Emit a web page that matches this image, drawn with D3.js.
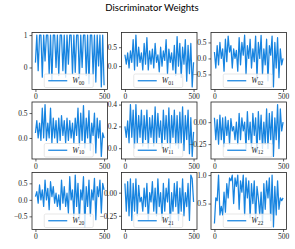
<!DOCTYPE html>
<html>
<head>
<meta charset="utf-8">
<script src="https://d3js.org/d3.v7.min.js"></script>
<style>
  body { margin: 0; background: #fff; }
</style>
</head>
<body>
<div id="chart"></div>
<script>
// weight traces, one value every 10 steps (0..500)
var w00 = [0.15, 1, -0.1, 1, 1, -0.3, 1, 0.2, 1, 1, -0.2, 1, -0.4, 1, 1, 0.0, 1, -0.25, 1, 1, -0.1, 1, -0.3, 1, 0.1, 1, 1, -0.2, 1, -0.15, 1, 1, -0.35, 1, 0.0, 1, 1, -0.25, 1, -0.5, 1, 1, -0.2, 1, -0.45, 1, 0.05, 1, -0.6, 1, -0.55];
var w01 = [0.3, 0.05, 0.35, -0.05, 0.4, 0.1, 0.7, -0.1, 0.82, 0.0, 0.5, 0.1, 0.35, -0.1, 0.6, 0.05, 0.75, -0.1, 0.4, 0.05, 0.45, -0.05, 0.6, 0.1, 0.3, -0.15, 0.5, 0.0, 0.4, 0.15, 0.7, -0.2, 0.45, 0.1, 0.35, -0.1, 0.55, -0.25, 0.78, 0.0, 0.6, -0.3, 0.5, 0.05, 0.7, -0.4, 0.55, -0.2, 0.6, -0.55, 0.1];
var w02 = [0.2, -0.3, 0.4, -0.2, 0.5, 0.0, 0.3, -0.4, 0.6, -0.1, 0.7, 0.2, 0.4, -0.3, 0.3, 0.0, 0.25, -0.4, 0.65, -0.2, 0.5, 0.1, 0.73, -0.5, 0.4, 0.0, 0.6, -0.3, 0.3, -0.1, 0.7, -0.6, 0.5, 0.0, 0.72, -0.5, 0.3, -0.2, 0.6, -0.7, 0.4, 0.1, 0.7, -0.89, 0.5, -0.3, 0.65, -0.6, 0.3, -0.2, 0.0];
var w10 = [0.1, 0.35, 0.0, 0.3, -0.05, 0.6, 0.0, 0.67, -0.05, 0.3, 0.0, 0.6, -0.1, 0.4, 0.0, 0.35, -0.1, 0.4, -0.05, 0.45, 0.05, 0.35, -0.1, 0.4, -0.05, 0.35, 0.0, 0.3, -0.1, 0.4, 0.05, 0.6, -0.15, 0.5, -0.05, 0.65, -0.2, 0.4, 0.0, 0.55, -0.25, 0.3, 0.05, 0.5, -0.3, 0.4, 0.0, 0.35, -0.37, 0.1, 0.0];
var w11 = [0.2, 0.1, 0.25, 0.05, 0.4, 0.1, 0.35, 0.0, 0.4, 0.05, 0.3, 0.1, 0.35, 0.02, 0.3, 0.08, 0.35, 0.0, 0.28, 0.1, 0.3, 0.02, 0.38, 0.05, 0.32, 0.1, 0.25, 0.0, 0.35, 0.08, 0.3, 0.05, 0.37, 0.0, 0.3, 0.1, 0.35, 0.03, 0.3, 0.0, 0.33, 0.05, 0.38, -0.02, 0.3, 0.08, 0.35, -0.05, 0.28, -0.075, 0.15];
var w12 = [0.05, -0.2, 0.03, -0.25, 0.08, -0.2, 0.05, -0.28, 0.06, -0.15, 0.02, -0.25, 0.04, -0.1, -0.05, -0.2, 0.0, -0.25, 0.1, -0.2, 0.05, -0.1, 0.0, -0.3, 0.12, -0.2, 0.0, -0.3, 0.1, -0.15, 0.05, -0.35, 0.12, -0.2, 0.08, -0.3, 0.0, -0.25, 0.15, -0.3, 0.1, -0.2, 0.12, -0.39, 0.05, -0.2, 0.2, -0.3, 0.15, -0.1, 0.0];
var w20 = [0.1, 0.25, -0.1, 0.45, 0.0, 0.3, -0.2, 0.6, 0.0, 0.35, -0.3, 0.55, 0.1, 0.4, -0.1, 0.2, -0.2, 0.15, -0.3, 0.6, -0.1, 0.4, -0.2, 0.2, -0.4, 0.7, 0.0, 0.3, -0.5, 0.75, -0.2, 0.5, -0.6, 0.3, 0.0, 0.7, -0.82, 0.4, -0.2, 0.6, -0.5, 0.3, 0.0, 0.65, -0.6, 0.4, 0.1, 0.6, -0.4, 0.5, 0.3];
var w21 = [0.1, -0.2, 0.12, -0.25, 0.15, -0.3, 0.1, -0.2, 0.15, -0.25, 0.08, -0.1, -0.05, -0.2, 0.05, -0.15, 0.1, -0.3, 0.0, -0.1, 0.12, -0.2, 0.05, -0.25, 0.15, -0.15, 0.0, -0.3, 0.1, -0.2, 0.05, -0.1, 0.15, -0.37, 0.0, -0.2, 0.1, -0.15, 0.12, -0.3, 0.05, -0.2, 0.15, -0.25, 0.0, -0.15, 0.1, -0.3, 0.19, 0.15, -0.1];
var w22 = [0.15, 0.6, 0.55, 1.0, 0.3, 0.45, 0.3, 0.7, 0.35, 0.85, 0.6, 0.95, 0.9, 1.0, 0.5, 0.95, 0.8, 1.0, 0.4, 0.9, 0.7, 1.0, 0.3, 0.95, 0.6, 0.9, 0.25, 0.85, 0.5, 0.9, 0.2, 0.8, 0.6, 0.3, 0.7, 0.15, 0.85, 0.4, 0.9, 0.6, 0.95, 0.2, 1.0, 0.09, 0.8, 0.3, 0.9, 0.4, 0.6, 0.55, 0.6];

var series = [w00, w01, w02, w10, w11, w12, w20, w21, w22];
var names = ["00", "01", "02", "10", "11", "12", "20", "21", "22"];

// y ticks and their labels, per panel
var yTicks = [[0, 1], [0, 0.5], [-0.5, 0, 0.5], [0, 0.5], [0, 0.2, 0.4], [-0.25, 0], [-0.5, 0, 0.5], [-0.25, 0], [0.5, 1]];
var yLabels = [["0", "1"], ["0.0", "0.5"], ["\u22120.5", "0.0", "0.5"], ["0.0", "0.5"], ["0.0", "0.2", "0.4"],
               ["\u22120.25", "0.00"], ["\u22120.5", "0.0", "0.5"], ["\u22120.25", "0.00"], ["0.5", "1.0"]];
var xTicks = [0, 500];
var xMax = 500;

var W = 295, H = 249;
var colLeft = [32, 121.5, 211], rowTop = [32.5, 102, 172.5];
var pw = 75.5, ph = 57;
var blue = "#1784e0";

var svg = d3.select("#chart").append("svg")
    .attr("width", W).attr("height", H);

svg.append("text")
    .attr("x", 152).attr("y", 10.5)
    .attr("text-anchor", "middle")
    .style("font-family", "Lato, 'DejaVu Sans', sans-serif")
    .style("font-size", "9.6px")
    .text("Discriminator Weights");

series.forEach(function(vals, k) {
    var r = Math.floor(k / 3), c = k % 3;
    var g = svg.append("g")
        .attr("transform", "translate(" + colLeft[c] + "," + rowTop[r] + ")");

    // matplotlib-ish 5% margins
    var x = d3.scaleLinear().domain([-0.05 * xMax, 1.05 * xMax]).range([0, pw]);
    var ext = d3.extent(vals), pad = (ext[1] - ext[0]) * 0.05;
    var y = d3.scaleLinear().domain([ext[0] - pad, ext[1] + pad]).range([ph, 0]);
    var step = xMax / (vals.length - 1);

    var line = d3.line()
        .x(function(d, i) { return x(i * step); })
        .y(function(d) { return y(d); });

    g.append("path")
        .datum(vals)
        .attr("d", line)
        .attr("fill", "none")
        .attr("stroke", blue)
        .attr("stroke-width", 1.25)
        .attr("stroke-linejoin", "round");

    // legend, lower center
    var lw = 49, lh = 13.5;
    var lg = g.append("g")
        .attr("transform", "translate(" + (pw / 2 - lw / 2 - 1) + "," + (ph - lh - 2) + ")");
    lg.append("rect")
        .attr("width", lw).attr("height", lh)
        .attr("rx", 1.5)
        .attr("fill", "#fff").attr("fill-opacity", 0.8)
        .attr("stroke", "#d6d6d6").attr("stroke-width", 0.6);
    lg.append("line")
        .attr("x1", 4).attr("x2", 23).attr("y1", lh / 2).attr("y2", lh / 2)
        .attr("stroke", blue).attr("stroke-width", 1.25);
    var lt = lg.append("text")
        .attr("x", 28).attr("y", lh / 2 + 2.6)
        .style("font-family", "'Liberation Serif', 'DejaVu Serif', serif")
        .style("font-size", "7.8px")
        .style("fill", "#222");
    lt.append("tspan").style("font-style", "italic").text("W");
    lt.append("tspan").attr("dy", 1.6).style("font-size", "5.6px").text(names[k]);

    // axes
    var ya = d3.axisLeft(y).tickValues(yTicks[k])
        .tickFormat(function(d, i) { return yLabels[k][i]; })
        .tickSize(2.5).tickPadding(2);
    var xa = d3.axisBottom(x).tickValues(xTicks).tickSize(2.5).tickPadding(2)
        .tickFormat(d3.format("d"));

    var gy = g.append("g").call(ya);
    var gx = g.append("g").attr("transform", "translate(0," + ph + ")").call(xa);
    [gx, gy].forEach(function(a) {
        a.select(".domain").remove();
        a.selectAll("line").attr("stroke", "#222").attr("stroke-width", 0.7);
        a.selectAll("text")
            .style("font-family", "'Liberation Serif', 'DejaVu Serif', serif")
            .style("font-size", "7.5px")
            .attr("fill", "#222");
    });

    g.append("rect")
        .attr("width", pw).attr("height", ph)
        .attr("fill", "none")
        .attr("stroke", "#222").attr("stroke-width", 0.8);
});
</script>
</body>
</html>
